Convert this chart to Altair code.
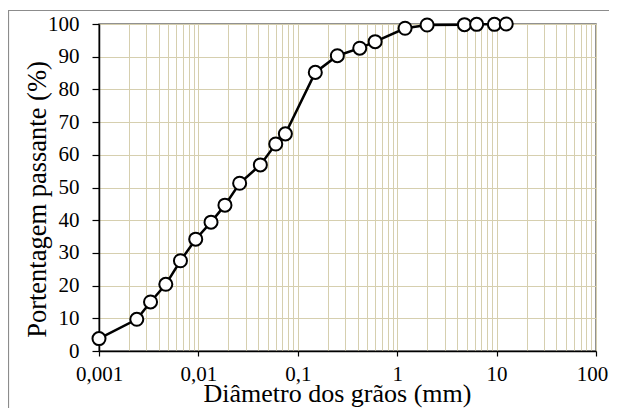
import altair as alt
import pandas as pd

# Grain-size distribution
diam_mm = [0.001, 0.0024, 0.0033, 0.0047, 0.0066, 0.0094, 0.0134, 0.0185, 0.026,
           0.042, 0.06, 0.075, 0.15, 0.25, 0.42, 0.6, 1.2, 2.0, 4.75, 6.3, 9.5, 12.5]
passing = [3.8, 9.7, 15.0, 20.4, 27.6, 34.2, 39.4, 44.6, 51.3,
           56.9, 63.3, 66.4, 85.2, 90.3, 92.6, 94.6, 98.7, 99.7, 99.8, 99.9, 99.9, 100.0]

y_ticks = [0, 10, 20, 30, 40, 50, 60, 70, 80, 90, 100]
decades = [0.001, 0.01, 0.1, 1, 10, 100]
multipliers = [1, 2, 3, 4, 5, 6, 7, 8, 9]
x_grid = [round(m * d, 6) for d in decades[:-1] for m in multipliers] + [100]

df = pd.DataFrame({"d": diam_mm, "p": passing})

W, H = 497, 327
FONT = "Liberation Serif"
GRID = "#D6CFAF"

is_decade = "abs(log(datum.value)/LN10 - round(log(datum.value)/LN10)) < 0.001"

x_enc = alt.X(
    "d:Q",
    scale=alt.Scale(type="log", domain=[0.001, 100], nice=False),
    axis=alt.Axis(
        values=x_grid,
        title="Diâmetro dos grãos (mm)",
        labelExpr=f"{is_decade} ? replace(format(datum.value, '~g'), '.', ',') : ''",
        labelOverlap=False,
        labelFlush=False,
        labelFont=FONT,
        labelFontSize=21,
        labelColor="black",
        labelPadding=7,
        labelOffset={"condition": {"test": "datum.value >= 99", "value": -4}, "value": 0},
        tickSize=5,
        tickColor="black",
        tickWidth=1.2,
        tickOpacity={"condition": {"test": is_decade, "value": 1}, "value": 0},
        grid=True,
        gridColor=GRID,
        gridWidth=1,
        domainColor="black",
        domainWidth=1.5,
        titleFont=FONT,
        titleFontSize=26,
        titleFontWeight="normal",
        titleColor="black",
        titleX=238,
        titleY=50,
        titleBaseline="alphabetic",
    ),
)

y_enc = alt.Y(
    "p:Q",
    scale=alt.Scale(domain=[0, 100], nice=False),
    axis=alt.Axis(
        values=y_ticks,
        tickCount=11,
        title="Portentagem passante (%)",
        labelOverlap=False,
        labelFont=FONT,
        labelFontSize=21,
        labelColor="black",
        labelPadding=13,
        labelFlush=False,
        tickSize=7,
        tickColor="black",
        tickWidth=1.2,
        grid=True,
        gridColor=GRID,
        gridWidth=1,
        domainColor="black",
        domainWidth=1.5,
        titleFont=FONT,
        titleFontSize=26.5,
        titleFontWeight="normal",
        titleColor="black",
        titleX=-54,
        titleY=175,
        titleBaseline="alphabetic",
        titleAngle=270,
    ),
)

frame = alt.Chart(pd.DataFrame({"k": [0]})).mark_rect(
    fill=None, stroke="#8C8C8C", strokeWidth=1.2
).encode(
    x=alt.value(-90.5), x2=alt.value(W + 60),
    y=alt.value(-13.5), y2=alt.value(H + 120),
)

line = alt.Chart(df).mark_line(color="black", strokeWidth=2.5).encode(x=x_enc, y=y_enc)
pts = alt.Chart(df).mark_point(
    shape="circle", filled=True, fill="white", stroke="black",
    strokeWidth=2, size=170, opacity=1
).encode(x=x_enc, y=y_enc)

chart = alt.layer(line, pts, frame).properties(
    width=W, height=H,
    autosize=alt.AutoSizeParams(type="none"),
    padding={"left": 91, "top": 16, "right": 13, "bottom": 57},
    background="white",
).configure_view(stroke="#6E6E6E", strokeWidth=1.5)

chart.save("out.html", embed_options={"renderer": "svg", "actions": False})
